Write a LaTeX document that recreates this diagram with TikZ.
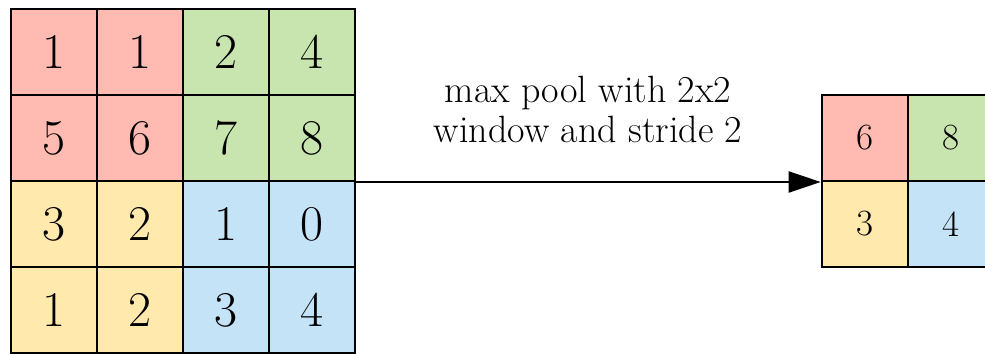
\documentclass[tikz,border=0pt]{standalone}
\usepackage{fontspec}
\usetikzlibrary{arrows.meta}
\definecolor{cpink}{RGB}{255,187,177}
\definecolor{cgreen}{RGB}{201,229,175}
\definecolor{cyellow}{RGB}{255,233,172}
\definecolor{cblue}{RGB}{197,227,246}
\tikzset{
  cell/.style={draw=black, line width=2pt, minimum width=86pt, minimum height=86pt, inner sep=0pt, anchor=north west, font=\fontsize{50}{60}\selectfont},
  smallcell/.style={cell, font=\fontsize{37}{44}\selectfont},
  conn/.style={draw=black, line width=2pt, -{Triangle[length=32pt,width=21pt]}},
  lbl/.style={align=center, inner sep=0pt, font=\fontsize{38}{40}\selectfont}
}
\begin{document}
\begin{tikzpicture}[x=1pt,y=-1pt]
\useasboundingbox (0,0) rectangle (985,354);
\clip (0,0) rectangle (985,354);
% left 4x4 grid
\node[cell, fill=cpink]   (a11) at (9.5,8)   {1};
\node[cell, fill=cpink]   (a12) at (95.5,8)  {1};
\node[cell, fill=cgreen]  (a13) at (181.5,8) {2};
\node[cell, fill=cgreen]  (a14) at (267.5,8) {4};
\node[cell, fill=cpink]   (a21) at (9.5,94)   {5};
\node[cell, fill=cpink]   (a22) at (95.5,94)  {6};
\node[cell, fill=cgreen]  (a23) at (181.5,94) {7};
\node[cell, fill=cgreen]  (a24) at (267.5,94) {8};
\node[cell, fill=cyellow] (a31) at (9.5,180)   {3};
\node[cell, fill=cyellow] (a32) at (95.5,180)  {2};
\node[cell, fill=cblue]   (a33) at (181.5,180) {1};
\node[cell, fill=cblue]   (a34) at (267.5,180) {0};
\node[cell, fill=cyellow] (a41) at (9.5,266)   {1};
\node[cell, fill=cyellow] (a42) at (95.5,266)  {2};
\node[cell, fill=cblue]   (a43) at (181.5,266) {3};
\node[cell, fill=cblue]   (a44) at (267.5,266) {4};
% right 2x2 grid
\node[smallcell, fill=cpink]   (b11) at (820.7,94)  {6};
\node[smallcell, fill=cgreen]  (b12) at (906.7,94)  {8};
\node[smallcell, fill=cyellow] (b21) at (820.7,180) {3};
\node[smallcell, fill=cblue]   (b22) at (906.7,180) {4};
% arrow
\draw[conn] (a24.south east) -- (b11.south west)
  node[midway, anchor=south, lbl, yshift=38pt] (lab) {max pool with 2x2\\window and stride 2};
\end{tikzpicture}
\end{document}
